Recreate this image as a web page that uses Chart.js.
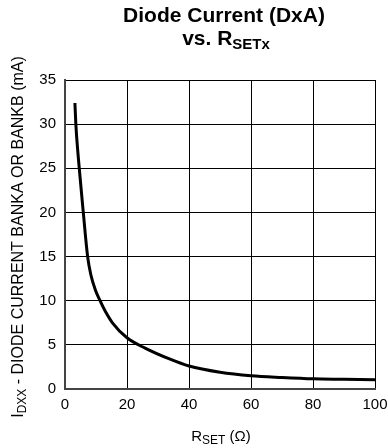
<!DOCTYPE html>
<html>
<head>
<meta charset="utf-8">
<script src="https://cdn.jsdelivr.net/npm/chart.js@4.4.1/dist/chart.umd.min.js"></script>
<style>
  html, body { margin: 0; padding: 0; background: #fff; }
  #wrap { width: 388px; height: 448px; }
</style>
</head>
<body>
<div id="wrap"><canvas id="chart" width="388" height="448"></canvas></div>
<script>
// R_SET (ohm) vs diode current (mA)
const rset = [3.2, 3.5, 4.6, 5.9, 7.3, 8.3, 9.8, 11.3, 13, 15.3, 20, 26, 33.7, 40, 50, 60, 70, 80, 90, 100];
const current = [32.4, 30, 25, 20, 15, 13, 11.2, 10, 8.8, 7.5, 5.8, 4.6, 3.4, 2.6, 1.9, 1.5, 1.3, 1.15, 1.1, 1.05];
const xTicks = [0, 20, 40, 60, 80, 100];
const yTicks = [0, 5, 10, 15, 20, 25, 30, 35];

const FONT = "'Liberation Sans', Arial, sans-serif";

// draws text with a subscript part
function drawSub(ctx, parts, x, y, align) {
  let total = 0;
  parts.forEach((p) => {
    ctx.font = p.font;
    total += ctx.measureText(p.text).width;
  });
  let cx = align === "center" ? x - total / 2 : x;
  ctx.textAlign = "left";
  ctx.textBaseline = "alphabetic";
  parts.forEach((p) => {
    ctx.font = p.font;
    ctx.fillText(p.text, cx, y + (p.dy || 0));
    cx += ctx.measureText(p.text).width;
  });
}

const labelsPlugin = {
  id: "labels",
  afterDraw(chart) {
    const ctx = chart.ctx;
    ctx.save();
    ctx.fillStyle = "#000";

    // title
    ctx.font = "bold 21px " + FONT;
    ctx.textAlign = "center";
    ctx.textBaseline = "alphabetic";
    ctx.fillText("Diode Current (DxA)", 224, 22);
    drawSub(ctx, [
      { text: "vs. R", font: "bold 21px " + FONT },
      { text: "SETx", font: "bold 15px " + FONT, dy: 4 }
    ], 226, 45, "center");

    // x axis title
    drawSub(ctx, [
      { text: "R", font: "15px " + FONT },
      { text: "SET", font: "12px " + FONT, dy: 3 },
      { text: " (\u03A9)", font: "15px " + FONT }
    ], 221, 441, "center");

    // y axis title
    ctx.translate(23, 237);
    ctx.rotate(-Math.PI / 2);
    drawSub(ctx, [
      { text: "I", font: "16px " + FONT },
      { text: "DXX", font: "12px " + FONT, dy: 3 },
      { text: " - DIODE CURRENT BANKA OR BANKB (mA)", font: "16px " + FONT }
    ], 0, 0, "center");
    ctx.restore();
  }
};

new Chart(document.getElementById("chart"), {
  type: "line",
  data: {
    datasets: [
      {
        data: rset.map((r, i) => ({ x: r, y: current[i] })),
        borderColor: "#000",
        borderWidth: 3,
        pointRadius: 0,
        fill: false,
        cubicInterpolationMode: "monotone"
      }
    ]
  },
  options: {
    responsive: false,
    animation: false,
    layout: { padding: { top: 80, right: 13, left: 0, bottom: 0 } },
    plugins: {
      legend: { display: false },
      tooltip: { enabled: false }
    },
    scales: {
      x: {
        type: "linear",
        min: 0,
        max: 100,
        afterBuildTicks: (scale) => {
          scale.ticks = xTicks.map((v) => ({ value: v }));
        },
        afterFit: (scale) => {
          scale.height = 59;
          scale.paddingLeft = 0;
          scale.paddingRight = 0;
        },
        grid: { color: "#000", lineWidth: 1, drawTicks: false },
        border: { color: "#444", width: 2 },
        ticks: { color: "#000", font: { family: FONT, size: 15 }, padding: 7, maxRotation: 0 }
      },
      y: {
        min: 0,
        max: 35,
        afterBuildTicks: (scale) => {
          scale.ticks = yTicks.map((v) => ({ value: v }));
        },
        afterFit: (scale) => {
          scale.width = 65;
          scale.paddingTop = 0;
          scale.paddingBottom = 0;
        },
        grid: { color: "#000", lineWidth: 1, drawTicks: false },
        border: { color: "#444", width: 2 },
        ticks: { color: "#000", font: { family: FONT, size: 15 }, padding: 9 }
      }
    }
  },
  plugins: [labelsPlugin]
});
</script>
</body>
</html>
